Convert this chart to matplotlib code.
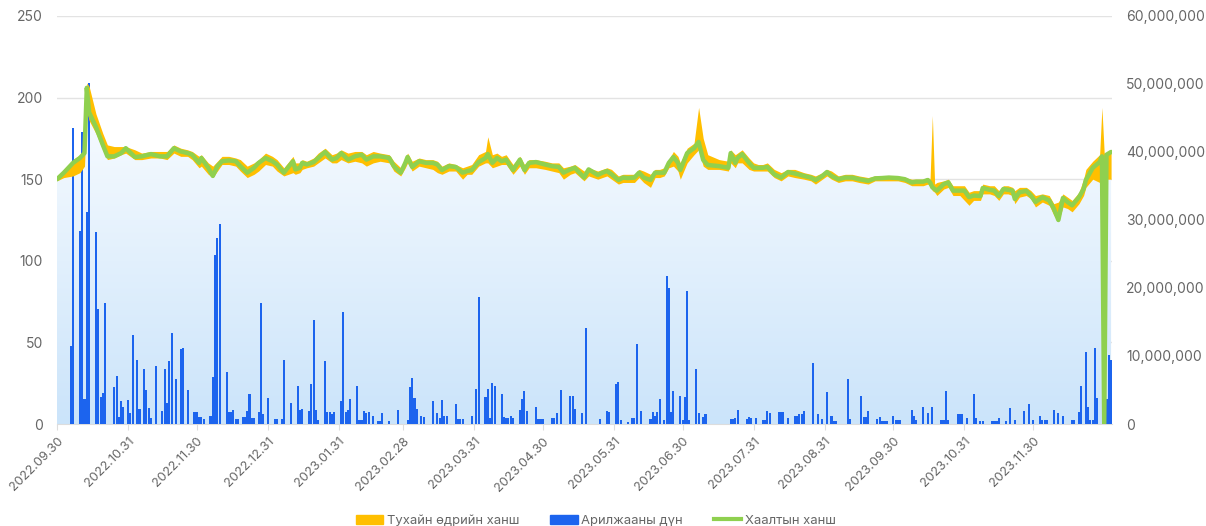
import numpy as np
import pandas as pd
import matplotlib
matplotlib.use("Agg")
import matplotlib.pyplot as plt
import matplotlib.dates as mdates
from matplotlib.patches import Polygon, Patch
from matplotlib.lines import Line2D
from matplotlib.colors import LinearSegmentedColormap
from matplotlib.ticker import FuncFormatter

plt.rcParams['font.family'] = ['Inter', 'DejaVu Sans']

start = "2022-09-30"

# price points: day offset from start, close / day high / day low
price_day = [0, 3, 7, 10, 12, 13, 14, 17, 20, 22, 25, 28, 30, 34, 37, 41,
             45, 48, 51, 54, 57, 59, 62, 63, 66, 68, 70, 72, 75, 78, 80, 83, 86, 88, 91, 94,
             96, 99, 103, 104, 106, 107, 109, 112, 114, 117, 120, 122, 124, 127,
             130, 133, 135, 138, 141, 145, 147, 150, 152, 153, 155, 158, 161, 164, 166, 168,
             171, 174, 177, 179, 181, 184, 187, 188, 190, 192, 194, 196, 199, 202, 204, 206, 209, 213,
             216, 219, 221, 224, 226, 230, 232, 236, 238, 240, 242, 245, 247, 249, 252, 254,
             256, 259, 261, 263, 265, 267, 269, 271, 272, 275, 278, 280, 282, 284, 289, 293, 294, 296, 297,
             299, 302, 304, 306, 308, 310, 313, 316, 319, 322, 326, 329, 331, 334, 336, 338,
             341, 344, 347, 350, 354, 357, 360, 363, 367, 370, 373, 375, 378, 380, 381, 382, 383, 384,
             387, 389, 391, 394, 396, 398, 400, 403, 404, 407, 409, 411, 413, 415, 417, 418, 420, 423,
             425, 427, 430, 433, 435, 437, 439, 441, 443, 446, 448, 449, 452, 455, 456, 457, 458, 460]

close = [150, 154, 160, 163, 166, 206, 191, 182, 171, 164, 164, 166, 169, 163.6, 164, 165.4,
         164, 164, 169, 167, 166, 165, 160, 163, 157, 152, 158, 161, 161.5, 161, 158, 154, 157, 160, 163, 161,
         159, 154, 161, 156, 157, 160, 159, 160.5, 163, 166.7, 162, 163, 166, 162,
         164, 165, 162, 164, 164, 163, 158, 154, 160, 163.6, 157.5, 161, 160, 160, 159, 155.6,
         158, 157.5, 154, 155, 155.6, 160.5, 163, 165.4, 160, 163, 161, 162, 155.6, 162, 155.6, 160, 160.5, 159,
         158, 157.5, 154, 156, 157, 151, 156, 152.6, 154, 155, 153, 149.5, 151, 150.7, 151, 154,
         151, 149.5, 154, 154, 154, 160, 163.6, 160, 155.6, 166, 169, 172.8, 161.8, 158.7, 158, 157, 166, 160, 163,
         165.4, 160, 157, 157, 157, 157.5, 153, 151, 154.4, 153.5, 152, 151, 149.5, 152, 154.4, 152,
         150, 151, 151, 150, 149, 150.5, 150.7, 151, 150.7, 150, 148, 148.5, 148.5, 149.5, 148, 145, 144, 143,
         147, 148, 143, 143, 143, 139, 140, 139.7, 144.6, 143.5, 143, 139.7, 144, 143.5, 143, 137.9, 142, 142.8,
         140, 136, 139, 137, 132, 125, 138.5, 136, 134, 139, 144, 149.5, 157, 160.5, 164, 0, 165, 166.7]

high = [151, 156, 162, 165, 168, 209, 207, 190, 178, 171, 170, 170, 170, 168, 166, 167,
        167, 167, 171, 169, 168, 167, 164, 165, 160, 158, 161, 164, 164, 163, 162, 158, 160, 162, 166, 164,
        162, 157, 164, 160, 160, 162, 161, 163, 166, 169, 165, 166, 168, 166,
        167, 167, 165, 167, 166, 165, 161, 157, 163, 166, 161, 163, 162, 162, 161, 158,
        160, 159, 157, 158, 159, 165, 167, 176, 165, 166, 164, 165, 159, 164, 159, 162, 162, 161,
        160, 160, 157, 158, 159, 155, 157, 155, 156, 157, 156, 152, 153, 153, 153, 156,
        155, 153, 156, 156, 157, 162, 167, 164, 160, 169, 172, 194, 175, 165, 162, 161, 168, 165, 166,
        168, 163, 160, 159, 159, 160, 156, 154, 156, 156, 154, 153, 152, 154, 156, 155,
        152, 153, 153, 152, 151, 152, 152, 152, 152, 151, 150, 150, 150, 151, 150, 189, 147, 148,
        149, 150, 146, 146, 146, 142, 143, 143, 147, 146, 146, 143, 146, 146, 145, 143, 145, 145,
        143, 140, 141, 140, 135, 136, 141, 139, 137, 142, 150, 156, 161, 165, 194, 166, 166, 167]

low = [149, 151, 152, 154, 158, 192, 186, 178, 168, 162, 163, 165, 166, 162, 162, 163,
       163, 162, 166, 164, 164, 162, 157, 158, 153, 151, 155, 159, 159, 158, 155, 151, 153, 155, 159, 158,
       155, 152, 154, 153, 154, 156, 157, 158, 160, 163, 160, 160, 162, 160,
       161, 160, 158, 160, 161, 160, 155, 152, 157, 160, 155, 158, 157, 156, 154, 153,
       155, 155, 150, 153, 153, 158, 160, 160, 157, 158, 159, 159, 153, 158, 153, 157, 157, 156,
       155, 154, 150, 153, 154, 149, 152, 150, 151, 152, 150, 147, 148, 148, 148, 151,
       148, 145, 151, 151, 152, 157, 158, 155, 150, 160, 165, 168, 158, 156, 156, 155, 160, 157, 160,
       160, 156, 155, 155, 155, 155, 151, 149, 152, 151, 150, 149, 147, 150, 152, 150,
       148, 149, 149, 148, 147, 149, 149, 149, 149, 148, 146, 146, 146, 147, 146, 143, 142, 140,
       144, 145, 140, 140, 137, 134, 137, 137, 141, 141, 140, 137, 141, 141, 140, 135, 139, 140,
       138, 133, 136, 134, 128, 124, 133, 132, 130, 135, 140, 145, 150, 148, 147, 150, 150, 150]

# trading value (million): day offset from start
vol_day = [6, 7, 10, 11, 12, 13, 14, 17, 18, 19, 20, 21, 25, 26, 27,
           28, 29, 31, 32, 33, 35, 36, 38, 39, 40, 41, 43, 46, 47, 48,
           49, 50, 52, 54, 55, 57, 60, 61, 62, 63, 64, 67, 68, 69, 70,
           71, 74, 75, 76, 77, 78, 79, 81, 82, 83, 84, 85, 86, 88, 89,
           90, 92, 95, 96, 98, 99, 102, 105, 106, 107, 110, 111, 112, 113, 114,
           117, 118, 119, 120, 121, 124, 125, 126, 127, 128, 131, 132, 133, 134, 135,
           136, 138, 140, 141, 142, 145, 149, 153, 154, 155, 156, 157, 159, 160, 164,
           166, 167, 168, 169, 170, 174, 175, 176, 177, 181, 183, 184, 187, 188, 189,
           190, 191, 194, 195, 196, 197, 198, 199, 202, 203, 204, 205, 209, 210, 211,
           212, 216, 217, 218, 220, 224, 225, 226, 229, 231, 237, 240, 241, 244, 245,
           246, 249, 251, 252, 253, 255, 259, 260, 261, 262, 263, 265, 266, 267, 268,
           269, 272, 273, 274, 275, 276, 279, 280, 282, 283, 294, 295, 296, 297, 301,
           302, 303, 305, 308, 309, 310, 311, 315, 316, 317, 319, 322, 323, 324, 325,
           326, 330, 332, 334, 336, 338, 339, 340, 345, 346, 351, 352, 353, 354, 358,
           359, 360, 361, 362, 365, 366, 367, 368, 373, 374, 375, 378, 380, 382, 386,
           387, 388, 389, 393, 394, 395, 397, 400, 401, 403, 404, 408, 409, 410, 411,
           414, 416, 418, 422, 424, 426, 429, 430, 431, 432, 435, 437, 439, 443, 444,
           446, 447, 449, 450, 451, 452, 453, 454, 458, 459, 460]

vol_mln = [11.5, 43.6, 28.4, 43.0, 3.7, 31.2, 50.1, 28.2, 16.9, 4.0, 4.6, 17.8, 5.4, 7.1, 1.0,
           3.4, 2.5, 3.5, 1.6, 13.1, 9.4, 2.2, 8.1, 5.0, 2.4, 0.9, 8.5, 1.9, 8.1, 3.1,
           9.3, 13.4, 6.6, 11.0, 11.2, 5.0, 1.8, 1.8, 1.0, 1.0, 0.7, 1.2, 6.9, 24.8, 27.4,
           29.4, 7.6, 1.8, 1.8, 2.0, 0.7, 0.7, 1.0, 1.0, 1.9, 4.4, 0.9, 0.9, 1.8, 17.8,
           1.5, 3.8, 0.7, 0.7, 0.7, 9.4, 3.1, 5.6, 2.0, 2.2, 1.9, 5.9, 15.3, 2.0, 0.6,
           9.3, 1.8, 1.8, 1.5, 1.8, 3.4, 16.5, 1.8, 2.0, 3.7, 5.6, 0.6, 0.6, 1.9, 1.6,
           1.8, 1.2, 0.4, 0.4, 1.6, 0.4, 2.0, 0.6, 5.4, 6.8, 3.8, 2.2, 1.2, 1.0, 3.4,
           1.6, 0.9, 3.5, 1.2, 1.2, 2.9, 0.7, 0.7, 0.7, 1.2, 5.1, 18.7, 4.0, 5.1, 0.9,
           6.0, 5.6, 4.4, 1.0, 0.9, 0.9, 1.2, 0.9, 2.0, 3.7, 4.9, 1.9, 2.5, 0.7, 0.7,
           0.7, 0.9, 0.9, 1.6, 5.0, 4.1, 4.1, 2.2, 1.6, 14.1, 0.7, 1.9, 1.8, 5.9, 6.2,
           0.6, 0.3, 0.9, 0.9, 11.8, 1.9, 0.7, 1.8, 1.2, 1.8, 3.7, 0.6, 21.8, 20.0, 1.8,
           4.9, 4.1, 0.6, 4.0, 19.6, 0.6, 8.1, 1.6, 1.0, 1.5, 0.7, 0.7, 0.9, 2.0, 0.7,
           1.0, 0.9, 0.9, 0.6, 0.6, 1.9, 1.6, 1.8, 1.8, 1.8, 0.9, 1.2, 1.2, 1.5, 1.5,
           1.9, 9.0, 1.5, 0.7, 4.7, 1.2, 0.4, 0.4, 6.6, 0.7, 4.1, 1.0, 1.0, 1.9, 0.7,
           1.0, 0.4, 0.4, 0.4, 1.2, 0.6, 0.6, 0.6, 2.0, 1.2, 0.6, 2.5, 1.6, 2.5, 0.6,
           0.6, 4.9, 0.6, 1.5, 1.5, 1.5, 0.9, 4.4, 0.9, 0.4, 0.4, 0.4, 0.4, 0.4, 0.9,
           0.4, 2.4, 0.6, 1.9, 2.9, 0.6, 1.2, 0.6, 0.6, 0.6, 2.0, 1.6, 1.2, 0.6, 0.6,
           1.8, 5.6, 10.6, 2.5, 0.6, 0.6, 11.2, 3.8, 3.7, 10.1, 9.4]

tick_labels = ["2022.09.30", "2022.10.31", "2022.11.30", "2022.12.31", "2023.01.31",
               "2023.02.28", "2023.03.31", "2023.04.30", "2023.05.31", "2023.06.30",
               "2023.07.31", "2023.08.31", "2023.09.30", "2023.10.31", "2023.11.30"]

legend_labels = ["Тухайн өдрийн ханш", "Арилжааны дүн", "Хаалтын ханш"]

c_range = "#ffbf00"
c_vol = "#1c64ee"
c_close = "#8fd04f"
c_text = "#666666"

x0 = mdates.date2num(pd.Timestamp(start))
px = x0 + np.array(price_day)
vx = x0 + np.array(vol_day)
tx = mdates.date2num(pd.to_datetime(tick_labels, format="%Y.%m.%d"))

fig = plt.figure(figsize=(12.06, 5.26), dpi=100)
ax = fig.add_axes([57 / 1206, 1 - 424 / 526, (1112 - 57) / 1206, (424 - 16) / 526])
axv = ax.twinx()
axp = ax.twinx()

# gradient area under the close line
grad = np.linspace(0, 1, 256).reshape(-1, 1)
cmap = LinearSegmentedColormap.from_list("bg", ["#cbe4fa", "#f9fcff"])
im = ax.imshow(grad, extent=[px[0], px[-1], 0, 200], origin="lower",
               aspect="auto", cmap=cmap, zorder=1)
area = Polygon(np.column_stack([np.r_[px, px[-1], px[0]], np.r_[close, 0, 0]]),
               closed=True, fc="none", ec="none")
ax.add_patch(area)
im.set_clip_path(area)

axv.bar(vx, vol_mln, width=0.9, color=c_vol, linewidth=0, zorder=2)

axp.fill_between(px, low, high, color=c_range, linewidth=0)
axp.plot(px, close, color=c_close, lw=3.2, solid_joinstyle="round", solid_capstyle="round")

xlim = (x0, x0 + 460.4)
for a in (ax, axv, axp):
    a.set_xlim(*xlim)
    for s in a.spines.values():
        s.set_visible(False)
ax.set_ylim(0, 250)
axp.set_ylim(0, 250)
axv.set_ylim(0, 60)

ax.set_yticks(range(0, 251, 50))
ax.yaxis.grid(True, color="#e3e3e3", lw=1)
ax.set_axisbelow(True)
ax.tick_params(axis="y", length=0, pad=10, labelsize=10, labelcolor=c_text)

axv.set_yticks(range(0, 61, 10))
axv.yaxis.set_major_formatter(FuncFormatter(lambda v, p: f"{int(round(v * 1e6)):,}"))
axv.tick_params(axis="y", length=0, pad=10, labelsize=10, labelcolor=c_text)

axp.set_yticks([])

ax.spines["bottom"].set_visible(True)
ax.spines["bottom"].set_color("#dddddd")
ax.set_xticks(tx)
ax.set_xticklabels(tick_labels, rotation=45, ha="right", rotation_mode="anchor")
ax.tick_params(axis="x", length=4, color="#dddddd", pad=4, labelsize=9.2, labelcolor=c_text)

handles = [Patch(color=c_range), Patch(color=c_vol), Line2D([], [], color=c_close, lw=3)]
fig.legend(handles, legend_labels, loc="lower center", bbox_to_anchor=(0.494, -0.024),
           ncol=3, frameon=False, fontsize=9.4, handlelength=2.1, handleheight=0.65,
           handletextpad=0.25, columnspacing=2.4, labelcolor=c_text)

fig.savefig("out.png", dpi=100)
